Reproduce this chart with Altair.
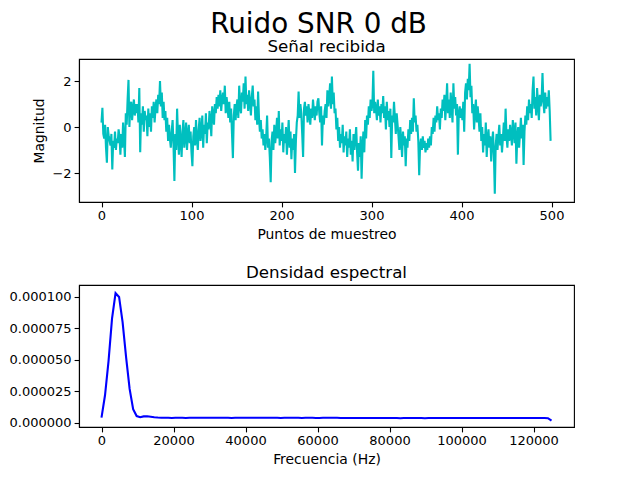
import altair as alt
import pandas as pd

# señal recibida (500 muestras)
senal = [
    0.19, 0.84, -0.3, -0.5, 0.1, -0.9, -1.55, 0.0, -0.4, -0.6,
    -0.8, -0.3, -1.85, -0.6, -0.9, -0.2, -1.0, -0.5, -0.7, -0.1,
    -0.4, -1.2, -0.3, -0.9, 0.2, -0.5, -1.3, 0.6, 0.1, 1.2,
    2.05, 0.0, 0.9, 1.1, 0.3, 0.8, 1.2, 0.5, 1.0, 0.6,
    1.0, 0.2, 1.7, -1.1, 0.6, 0.1, 0.9, -0.2, 0.7, 0.3,
    0.5, -0.4, 0.8, 0.0, 0.6, -0.2, 0.9, 0.4, 1.1, 0.2,
    0.8, 1.2, 0.6, 1.4, 1.0, 2.0, 0.9, 1.5, 0.4, 1.1,
    0.3, 0.7, -0.2, 0.4, -0.6, 0.1, -0.5, -0.9, -0.2, 0.3,
    -0.8, -2.35, -0.3, -1.0, 0.8, -0.4, -1.2, 0.1, -0.6, -1.3,
    -0.2, 0.3, -0.9, -0.4, 0.2, -1.0, -0.3, 0.1, -0.7, -0.2,
    -1.1, -1.7, -0.4, 0.0, -0.8, 0.3, -0.5, -1.0, -0.1, 0.4,
    -0.6, -0.2, 0.5, -0.9, 0.1, -0.3, 0.6, -0.7, 0.2, -0.1,
    0.7, 0.3, -0.4, 0.9, 0.5, 0.1, 1.0, 0.6, 1.3, 0.8,
    1.4, 0.9, 1.6, 0.7, 1.2, 1.5, 1.0, 1.8, 0.6, 1.3,
    0.9, 0.4, 1.1, 0.2, 0.8, -0.3, -1.35, 0.5, 1.0, 0.3,
    0.9, 1.2, 0.4, 1.8, 0.9, 0.6, 1.5, 1.1, 1.9, 0.8,
    2.2, 1.0, 1.4, 0.7, 1.6, 1.1, 0.5, 1.3, 1.8, 0.9,
    1.2, 0.3, 0.9, 0.1, 1.55, 0.4, -0.2, 0.3, -0.5, -0.1,
    -0.8, -0.3, -1.0, -0.4, 0.5, -0.9, -0.5, -1.3, -2.4, -0.6,
    -0.2, -1.0, 0.1, -0.7, -0.3, 0.4, -0.5, 0.7, -0.8, -0.1,
    -0.6, 0.2, -1.1, -0.3, -0.7, 0.0, -1.2, -0.4, 0.3, -0.9,
    -0.2, -1.4, -0.5, -1.0, -0.3, -2.0, -0.6, 0.2, 0.5, 1.55,
    0.4, 1.0, 0.6, -0.3, -1.3, 0.8, 1.1, 0.5, 0.9, 0.2,
    1.0, 0.6, 0.1, 0.8, 0.4, 1.2, 0.7, 0.3, 0.9, 0.5,
    1.1, 1.25, 0.6, 0.2, 0.9, -0.8, 0.5, 0.1, 0.7, 1.0,
    0.4, 1.6, 0.9, 1.3, 1.9, 0.8, 2.2, 1.0, 1.5, 0.6,
    0.8, -0.1, 0.4, -0.6, 0.0, -0.9, -0.3, -0.7, 0.1, -1.1,
    -0.4, -0.8, -0.2, -1.3, -0.5, -0.9, -0.1, -1.2, -0.6, -1.5,
    -0.3, -1.0, -0.5, 0.0, -1.1, -1.9, -0.7, -1.3, -0.4, -2.25,
    -0.9, -0.2, -1.1, 0.3, -0.5, 0.5, 0.1, 0.9, 0.4, 1.2,
    0.7, 1.0, 2.45, 0.6, 1.1, 0.8, 0.3, 1.2, 0.5, 0.9,
    0.2, 1.0, 0.6, 1.35, 0.4, 0.9, -0.1, 1.1, 0.3, 0.7,
    0.0, 0.8, -1.35, 0.5, 0.2, 1.1, 0.4, -0.3, 0.6, 0.1,
    -0.4, -1.0, 0.0, -0.6, -1.3, -0.2, -0.8, -0.4, -1.7, -0.5,
    -0.9, -0.1, -0.6, 0.3, -0.3, 0.4, -0.2, 1.25, 0.2, 0.5,
    -0.2, 0.1, -0.6, -2.1, -0.8, -0.5, -1.0, -0.4, -0.9, -0.6,
    -1.1, -0.7, -1.0, -0.5, -0.9, -0.4, -0.8, 0.0, -0.3, 0.4,
    -0.2, 0.5, 0.2, 0.9, 0.3, 0.6, -0.1, 0.8, 0.4, 1.2,
    0.7, 1.4, 0.3, 1.0, 1.9, 0.6, 1.2, 0.4, 1.5, 0.9,
    0.2, 1.9, 0.8, 1.3, 0.5, 1.0, -1.2, 0.6, 0.9, 0.4,
    0.8, 0.3, 1.1, -0.2, 1.5, 1.9, 1.2, 2.1, 1.6, 2.75,
    1.3, 1.8, 0.6, 1.0, -0.1, 0.7, 1.2, 0.2, 0.9, 0.4,
    -0.2, 0.6, -0.6, 0.0, -1.1, -0.3, -0.8, 0.2, -1.3, -0.5,
    -0.1, -0.9, -0.4, -1.5, -0.7, -0.2, -1.2, -2.9, -0.8, -0.3,
    -1.0, -0.4, 0.1, -0.8, -0.3, -1.1, -0.5, 0.2, -0.6, 0.8,
    -0.4, -0.9, -0.1, -0.6, 0.1, -0.3, -0.8, 0.3, -0.2, -0.7,
    0.2, -1.6, -0.4, 0.0, -0.9, -0.3, 0.4, -0.5, 0.1, -1.65,
    -0.2, 0.5, 0.1, 0.9, 0.3, 1.2, 0.6, 1.0, 0.4, 1.6,
    2.2, 0.8, 1.3, 0.5, 1.7, 1.0, 0.3, 1.4, 0.9, 1.2,
    2.35, 1.1, 0.6, 1.5, 0.8, 1.3, 0.9, 1.6, 0.7, -0.6,
]
muestras = list(range(len(senal)))

# densidad espectral (129 bins de 976.5625 Hz)
psd = [
    4.2e-6, 2.2e-5, 4.9e-5, 8.3e-5, 1.03e-4, 1.0e-4, 8.0e-5, 5.2e-5, 2.7e-5, 1.1e-5,
    5.5e-6, 4.6e-6, 5.2e-6, 5.3e-6, 4.9e-6, 4.5e-6, 4.3e-6, 4.2e-6, 4.1e-6, 4.1e-6,
    4.0e-6, 4.1e-6, 4.2e-6, 4.1e-6, 4.0e-6, 4.1e-6, 4.2e-6, 4.2e-6, 4.1e-6, 4.1e-6,
    4.2e-6, 4.2e-6, 4.1e-6, 4.2e-6, 4.2e-6, 4.1e-6, 4.1e-6, 4.0e-6, 4.1e-6, 4.2e-6,
    4.2e-6, 4.2e-6, 4.1e-6, 4.2e-6, 4.2e-6, 4.2e-6, 4.1e-6, 4.1e-6, 4.2e-6, 4.2e-6,
    4.1e-6, 4.0e-6, 4.1e-6, 4.1e-6, 4.2e-6, 4.1e-6, 4.1e-6, 4.0e-6, 4.1e-6, 4.1e-6,
    4.1e-6, 4.0e-6, 4.0e-6, 4.1e-6, 4.2e-6, 4.2e-6, 4.1e-6, 4.1e-6, 4.0e-6, 4.0e-6,
    4.0e-6, 3.9e-6, 4.0e-6, 4.0e-6, 3.9e-6, 3.9e-6, 4.0e-6, 4.0e-6, 3.9e-6, 3.9e-6,
    3.9e-6, 4.0e-6, 3.9e-6, 3.9e-6, 3.9e-6, 3.8e-6, 3.9e-6, 4.0e-6, 4.0e-6, 3.9e-6,
    3.9e-6, 3.9e-6, 3.8e-6, 3.9e-6, 3.9e-6, 3.9e-6, 4.0e-6, 3.9e-6, 3.9e-6, 3.9e-6,
    3.9e-6, 3.9e-6, 4.0e-6, 4.0e-6, 3.9e-6, 3.9e-6, 3.9e-6, 3.9e-6, 4.0e-6, 4.0e-6,
    3.9e-6, 3.9e-6, 4.0e-6, 4.0e-6, 3.9e-6, 3.9e-6, 3.9e-6, 4.0e-6, 4.0e-6, 4.0e-6,
    3.9e-6, 3.9e-6, 4.0e-6, 4.0e-6, 4.0e-6, 3.9e-6, 3.9e-6, 3.8e-6, 1.8e-6,
]
frecuencias = [i * 976.5625 for i in range(len(psd))]

FUENTE = "DejaVu Sans"

df_senal = pd.DataFrame({"muestra": muestras, "valor": senal})
df_psd = pd.DataFrame({"frecuencia": frecuencias, "densidad": psd})

arriba = alt.Chart(df_senal).mark_line(color="#00bfbf", strokeWidth=2.1).encode(
    x=alt.X("muestra:Q",
            scale=alt.Scale(domain=[-25, 525], nice=False, zero=False),
            axis=alt.Axis(values=[0, 100, 200, 300, 400, 500], title="Puntos de muestreo")),
    y=alt.Y("valor:Q",
            scale=alt.Scale(domain=[-3.26, 2.96], nice=False, zero=False),
            axis=alt.Axis(values=[-2, 0, 2], title="Magnitud")),
).properties(
    width=495, height=143,
    title=alt.TitleParams("Señal recibida", fontSize=16.7, font=FUENTE,
                          fontWeight="normal", offset=3, anchor="middle"),
)

abajo = alt.Chart(df_psd).mark_line(color="#0000ff", strokeWidth=2.1).encode(
    x=alt.X("frecuencia:Q",
            scale=alt.Scale(domain=[-6250, 131250], nice=False, zero=False),
            axis=alt.Axis(values=[0, 20000, 40000, 60000, 80000, 100000, 120000],
                          format="d", title="Frecuencia (Hz)")),
    y=alt.Y("densidad:Q",
            scale=alt.Scale(domain=[-3.2e-6, 1.095e-4], nice=False, zero=False),
            axis=alt.Axis(values=[0, 0.000025, 0.00005, 0.000075, 0.0001],
                          format=".6f", title=None)),
).properties(
    width=495, height=142,
    title=alt.TitleParams("Densidad espectral", fontSize=16.7, font=FUENTE,
                          fontWeight="normal", offset=3, anchor="middle"),
)

chart = alt.vconcat(arriba, abajo, spacing=21).properties(
    padding={"top": 2, "left": 0, "right": 0, "bottom": 0},
    title=alt.TitleParams("Ruido SNR 0 dB", fontSize=27.8, font=FUENTE,
                          fontWeight="normal", anchor="middle", dx=27, offset=0),
).configure_view(
    stroke="black", strokeWidth=1.1
).configure_axis(
    grid=False, domainColor="black", domainWidth=1.1, tickColor="black",
    tickWidth=1.1, tickSize=4.9, labelPadding=3, labelFont=FUENTE,
    labelFontSize=13, labelColor="black", titleFont=FUENTE, titleFontSize=13.9,
    titleFontWeight="normal", titleColor="black", titlePadding=5,
).configure_title(color="black")

chart.save("out.html", embed_options={"renderer": "svg", "actions": False})
